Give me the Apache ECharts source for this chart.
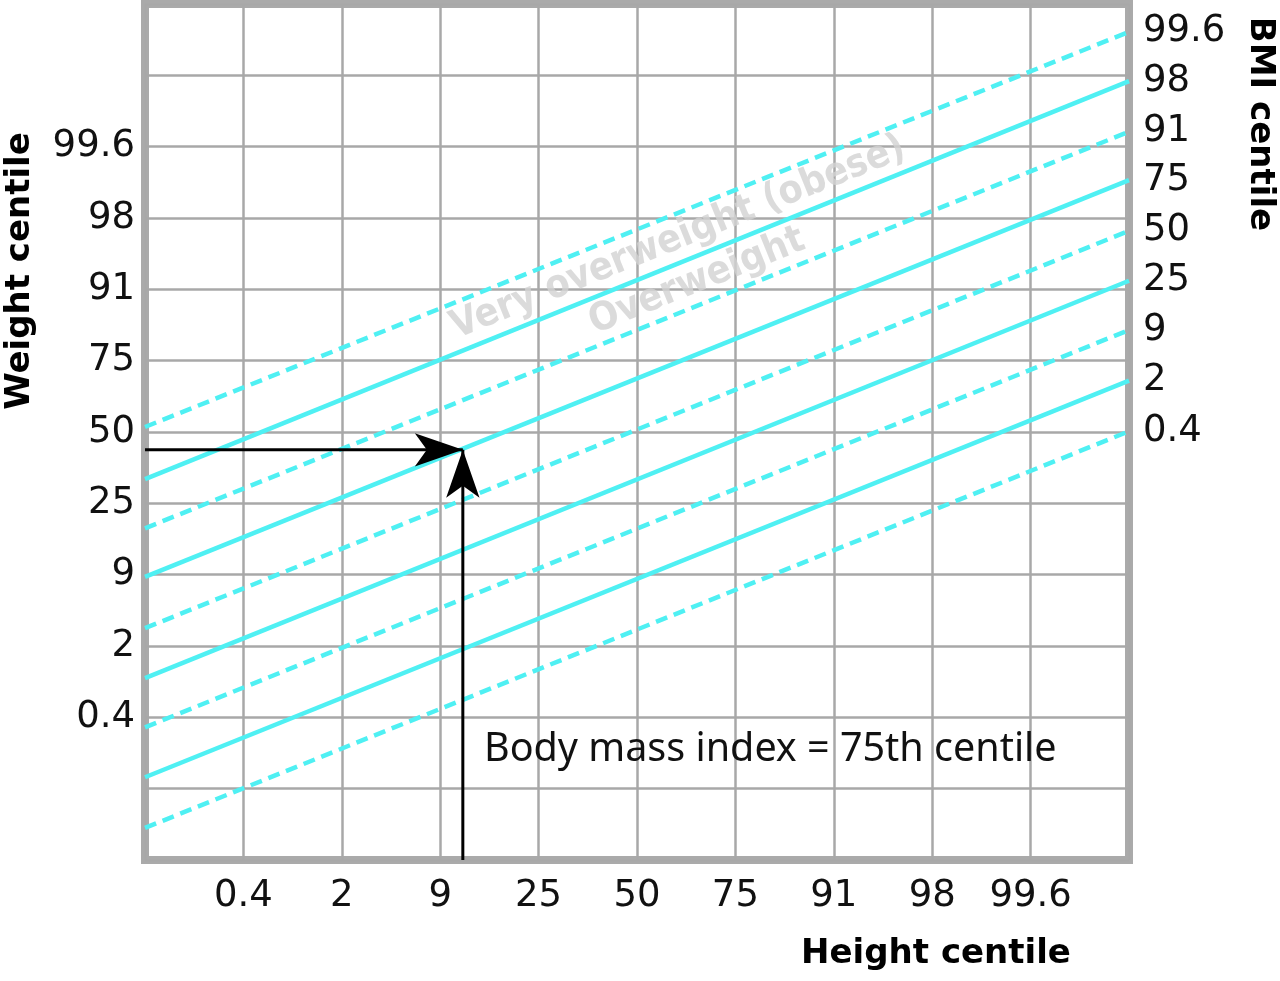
<!DOCTYPE html>
<html>
<head>
<meta charset="utf-8">
<title>BMI centile chart</title>
<script src="https://cdn.jsdelivr.net/npm/echarts@6/dist/echarts.min.js"></script>
<style>
html, body { margin: 0; padding: 0; background: #fff; }
#main { width: 1280px; height: 981px; }
</style>
</head>
<body>
<div id="main"></div>
<script>
// tick labels (grid positions 0..10 across, 0..12 up)
var heightTicks = ['', '0.4', '2', '9', '25', '50', '75', '91', '98', '99.6', ''];
var weightTicks = ['', '', '0.4', '2', '9', '25', '50', '75', '91', '98', '99.6', '', ''];

// BMI centile lines: value at left edge and right edge
var bmiCentiles = ['99.6', '98', '91', '75', '50', '25', '9', '2', '0.4'];
var bmiDashed = [true, false, true, false, true, false, true, false, true];
var bmiStart = [6.07, 5.34, 4.65, 3.97, 3.25, 2.55, 1.86, 1.16, 0.45];
var bmiEnd = [11.61, 10.92, 10.21, 9.53, 8.82, 8.12, 7.43, 6.72, 6.01];

// worked example: the arrows meet here
var exampleHeight = 3.23;
var exampleWeight = 5.75;
var exampleText = 'Body mass index = 75th centile';

// zone names along the lines
var zoneNames = ['Very overweight (obese)', 'Overweight'];
var zoneX = [5.42, 5.61];
var zoneY = [8.72, 8.11];

var cyan = '#4ff0f3';
var tickFont = 'DejaVu Sans';
var boldFont = 'bold 34px "DejaVu Sans"';

var chart = echarts.init(document.getElementById('main'), null, { renderer: 'canvas' });

var series = [];

// zone names first so the lines go over them
var zoneData = [];
for (var k = 0; k < zoneNames.length; k++) {
  zoneData.push([zoneX[k], zoneY[k], zoneNames[k]]);
}
series.push({
  type: 'scatter',
  z: 1,
  silent: true,
  symbolSize: 0,
  data: zoneData,
  label: {
    show: true,
    position: 'inside',
    rotate: 22,
    formatter: function (p) { return p.value[2]; },
    color: '#d2d2d2',
    fontFamily: '"DejaVu Sans Condensed", "Liberation Sans Narrow", "DejaVu Sans"',
    fontWeight: 'bold',
    fontSize: 39
  }
});

for (var i = 0; i < bmiCentiles.length; i++) {
  series.push({
    name: bmiCentiles[i],
    type: 'line',
    z: 3,
    silent: true,
    symbol: 'none',
    data: [[0, bmiStart[i]], [10, bmiEnd[i]]],
    lineStyle: {
      color: cyan,
      width: 4.5,
      type: bmiDashed[i] ? [12, 7] : 'solid'
    },
    endLabel: {
      show: true,
      formatter: '{a}',
      distance: 14,
      color: '#111',
      fontFamily: tickFont,
      fontSize: 37
    }
  });
}

// arrows: across from weight axis, up from height axis
series.push({
  type: 'line',
  z: 5,
  silent: true,
  color: '#000',
  showSymbol: true,
  symbol: 'none',
  lineStyle: { color: '#000', width: 3 },
  data: [
    [0, exampleWeight],
    { value: [exampleHeight, exampleWeight], symbol: 'arrow', symbolSize: [25, 48], symbolRotate: -90, symbolOffset: [0, 0] }
  ]
});
series.push({
  type: 'line',
  z: 5,
  silent: true,
  color: '#000',
  showSymbol: true,
  symbol: 'none',
  lineStyle: { color: '#000', width: 3 },
  data: [
    [exampleHeight, 0],
    { value: [exampleHeight, exampleWeight], symbol: 'arrow', symbolSize: [25, 48], symbolRotate: 0, symbolOffset: [0, 0] }
  ]
});

var option = {
  animation: false,
  backgroundColor: '#fff',
  grid: {
    left: 145,
    top: 4,
    width: 984,
    height: 856,
    show: true,
    borderWidth: 8,
    borderColor: '#aaaaaa',
    backgroundColor: 'transparent'
  },
  xAxis: {
    type: 'value',
    min: 0,
    max: 10,
    interval: 1,
    axisLine: { show: false },
    axisTick: { show: false },
    splitLine: { show: true, lineStyle: { color: '#a8a8a8', width: 2.5 } },
    axisLabel: {
      margin: 18,
      color: '#111',
      fontFamily: tickFont,
      fontSize: 37,
      formatter: function (v) { return heightTicks[Math.round(v)] || ''; }
    }
  },
  yAxis: {
    type: 'value',
    min: 0,
    max: 12,
    interval: 1,
    axisLine: { show: false },
    axisTick: { show: false },
    splitLine: { show: true, lineStyle: { color: '#a8a8a8', width: 2.5 } },
    axisLabel: {
      margin: 10,
      color: '#111',
      fontFamily: tickFont,
      fontSize: 37,
      formatter: function (v) { return weightTicks[Math.round(v)] || ''; }
    }
  },
  graphic: [
    {
      type: 'text', x: 20, y: 271, rotation: Math.PI / 2, z: 10,
      style: { text: 'Weight centile', font: boldFont, fill: '#000', align: 'center', verticalAlign: 'middle' }
    },
    {
      type: 'text', x: 1260, y: 124, rotation: -Math.PI / 2, z: 10,
      style: { text: 'BMI centile', font: boldFont, fill: '#000', align: 'center', verticalAlign: 'middle' }
    },
    {
      type: 'text', x: 936, y: 954, z: 10,
      style: { text: 'Height centile', font: boldFont, fill: '#000', align: 'center', verticalAlign: 'middle' }
    },
    {
      type: 'text', x: 484, y: 750, z: 10,
      style: { text: exampleText, font: '39.5px "Noto Sans"', fill: '#111', align: 'left', verticalAlign: 'middle' }
    }
  ],
  series: series
};

chart.setOption(option);
</script>
</body>
</html>
